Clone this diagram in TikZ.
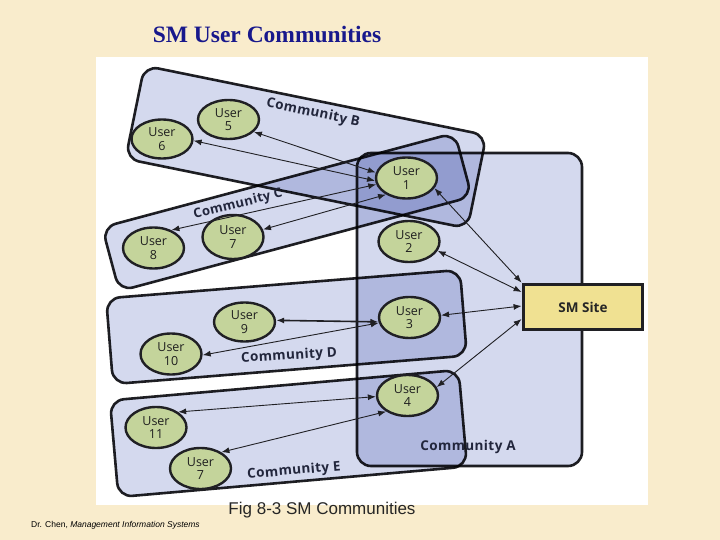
\documentclass[tikz,border=0pt]{standalone}
\usepackage{fontspec}
\setmainfont{Liberation Serif}
\newfontfamily\osans{Open Sans}
\newfontfamily\osanswide{Open Sans}[LetterSpace=3]
\newfontfamily\lsans{Liberation Sans}
\usetikzlibrary{shapes.geometric,arrows.meta}
\definecolor{bgbeige}{RGB}{249,236,204}
\definecolor{commfill}{RGB}{212,217,238}
\definecolor{userfill}{RGB}{196,212,155}
\definecolor{sitefill}{RGB}{240,225,146}
\definecolor{titleblue}{RGB}{24,24,140}
\definecolor{inkdark}{RGB}{32,32,36}
\definecolor{labelink}{RGB}{34,38,60}
\tikzset{
  commbox/.style={draw=inkdark, line width=2.6pt, fill=commfill, rounded corners=14pt, inner sep=0pt},
  userbox/.style={ellipse, draw=inkdark, line width=2.4pt, fill=userfill, inner sep=0pt,
    minimum width=61pt, minimum height=41pt, align=center,
    font=\osans\fontsize{12.5}{13.5}\selectfont, text=black!88},
  commlabel/.style={font=\osanswide\bfseries\fontsize{13.5}{14}\selectfont, text=labelink, inner sep=1pt},
  link/.style={draw=inkdark, line width=0.9pt, {Latex[length=8pt,width=6pt]}-{Latex[length=8pt,width=6pt]}},
}
\begin{document}
\begin{tikzpicture}[x=1pt,y=-1pt]
\useasboundingbox (0,0) rectangle (720,540);
\fill[bgbeige] (0,0) rectangle (720,540);
\fill[white] (96,57) rectangle (648,505);
\node[font=\bfseries\fontsize{23.5}{26}\selectfont, text=titleblue] (title) at (267,34) {SM User Communities};
\node[font=\lsans\fontsize{17}{19}\selectfont, text=black!85] (caption) at (322,510) {Fig 8-3 SM Communities};
\node[font=\lsans\fontsize{8.5}{10}\selectfont, anchor=west, text=black, inner sep=0pt] (footer) at (31,525) {Dr. Chen, \textit{Management Information Systems}};
% community areas
\begin{scope}[blend mode=multiply]
  \node[commbox, minimum width=225pt, minimum height=313pt] (cA) at (469.5,309.5) {};
  \node[commbox, minimum width=349pt, minimum height=95pt, rotate=-11.5] (cB) at (306,147) {};
  \node[commbox, minimum width=365pt, minimum height=66pt, rotate=15] (cC) at (287,212) {};
  \node[commbox, minimum width=355pt, minimum height=86pt, rotate=4.6] (cD) at (286.5,327) {};
  \node[commbox, minimum width=350pt, minimum height=97pt, rotate=5] (cE) at (288.5,433.5) {};
\end{scope}
% community labels
\node[commlabel, rotate=-12] (lB) at (313,113) {Community B};
\node[commlabel, rotate=14, font=\osanswide\bfseries\fontsize{13}{14}\selectfont] (lC) at (238,204.5) {Community C};
\node[commlabel, rotate=3.5] (lD) at (289,356) {Community D};
\node[commlabel, rotate=5] (lE) at (294,471) {Community E};
\node[commlabel] (lA) at (468,447) {Community A};
% users
\node[userbox] (u1) at (406.5,178) {User\\1};
\node[userbox] (u2) at (409,241.5) {User\\2};
\node[userbox] (u3) at (409.5,317.5) {User\\3};
\node[userbox] (u4) at (407.5,395.5) {User\\4};
\node[userbox, minimum height=39pt] (u5) at (228.5,119.5) {User\\5};
\node[userbox, minimum height=39pt] (u6) at (162,139) {User\\6};
\node[userbox, minimum height=44pt] (u7c) at (233,237) {User\\7};
\node[userbox] (u8) at (153.5,248) {User\\8};
\node[userbox, minimum height=39pt] (u9) at (244.5,322) {User\\9};
\node[userbox] (u10) at (171,354) {User\\10};
\node[userbox] (u11) at (156,427.5) {User\\11};
\node[userbox] (u7e) at (200.5,468.5) {User\\7};
% site
\node[draw=inkdark, line width=3.8pt, fill=sitefill, minimum width=119pt, minimum height=45pt,
  inner sep=0pt, font=\osans\bfseries\fontsize{13.5}{14}\selectfont, text=black!85] (sm) at (583,307) {SM Site};
% links
\draw[link] (u5.-26) -- (u1.170);
\draw[link] (u6.-3) -- (u1.185);
\draw[link] (u8.45) -- (u1.192);
\draw[link] (u7c.14) -- (u1.219);
\draw[link] (u1.-20) -- (sm.north west);
\draw[link] (u2.-18) -- ([yshift=15pt]sm.west);
\draw[link] (u3.4) -- ([yshift=1pt]sm.west);
\draw[link] (u4.16) -- ([yshift=-12pt]sm.west);
\draw[link, line width=1.6pt] (u9.3) -- (u3.188);
\draw[link] (u10.-2) -- (u3.190);
\draw[link] (u11.35) -- (u4.182);
\draw[link] (u7e.38) -- (u4.217);
\end{tikzpicture}
\end{document}
